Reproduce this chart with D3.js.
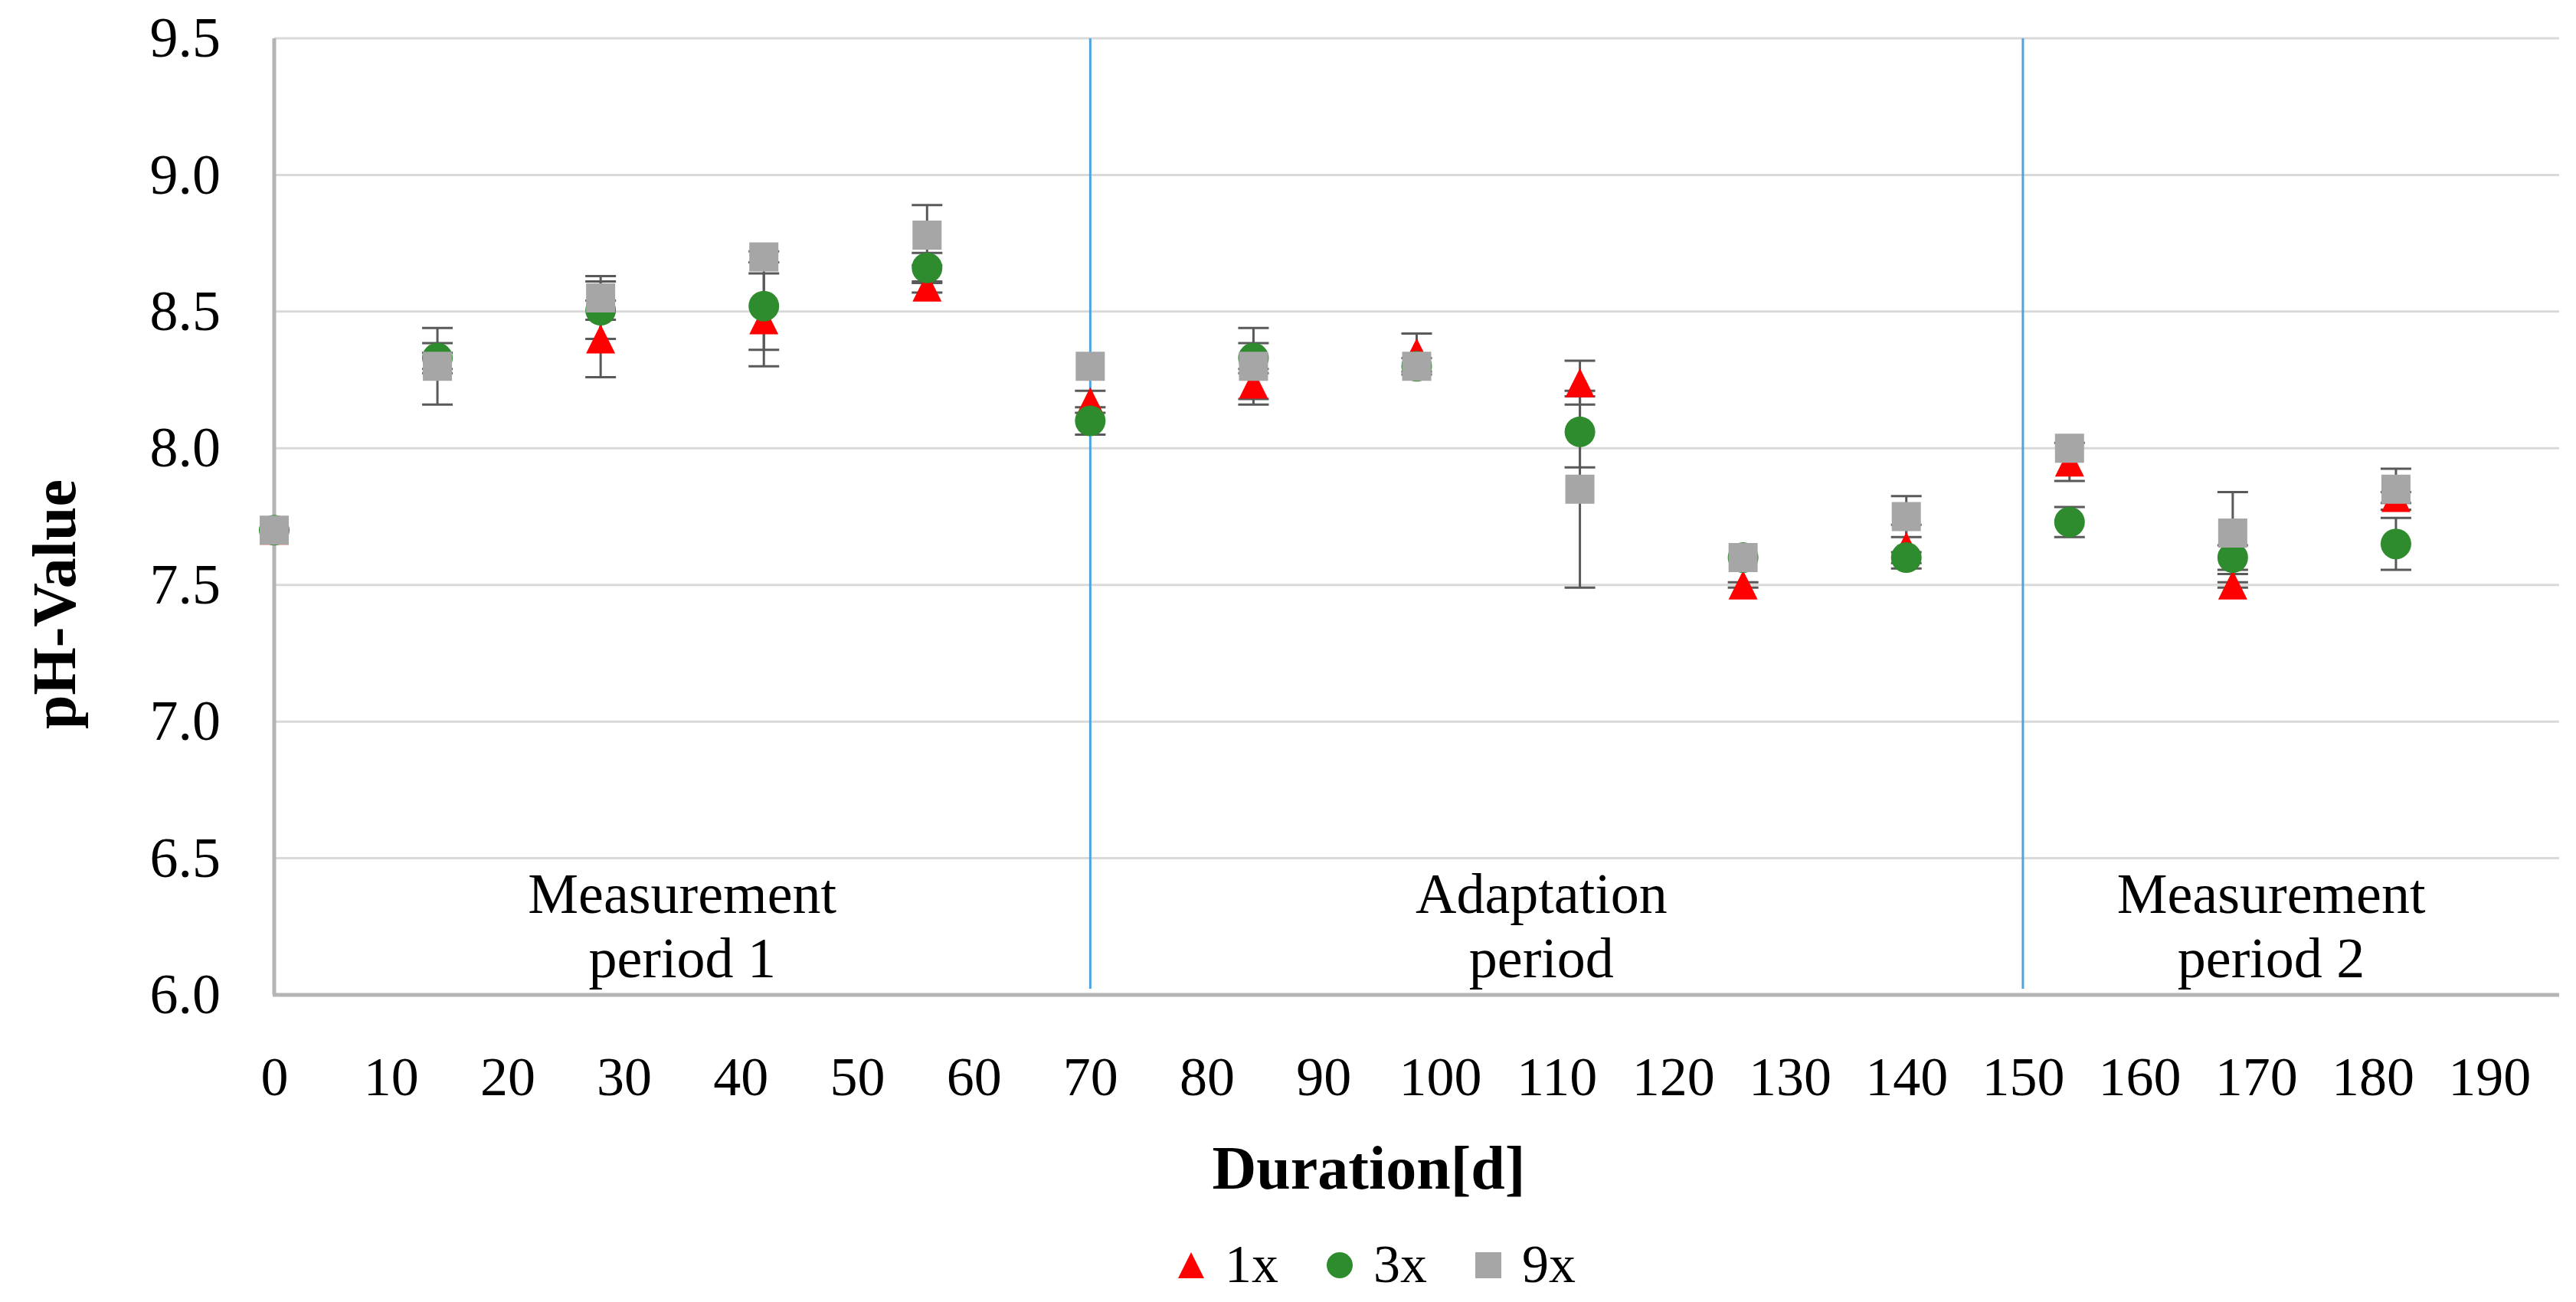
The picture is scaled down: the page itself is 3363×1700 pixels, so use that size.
<!DOCTYPE html>
<html>
<head>
<meta charset="utf-8">
<script src="https://cdn.jsdelivr.net/npm/d3@7/dist/d3.min.js"></script>
<style>
  body { margin: 0; background: #fff; }
  text { font-family: "Liberation Serif", "DejaVu Serif", serif; fill: #000; }
</style>
</head>
<body>
<svg id="chart"></svg>
<script>
// sampling days
var days = [0, 14, 28, 42, 56, 70, 84, 98, 112, 126, 140, 154, 168, 182];

// pH means and standard deviations
var ph1x  = [7.70, 8.32, 8.40, 8.47, 8.59, 8.17, 8.235, 8.35, 8.24, 7.50, 7.64, 7.95, 7.50, 7.82];
var err1x = [0, 0.03, 0.14, 0.17, 0.02, 0.04, 0.055, 0.07, 0.08, 0.01, 0.08, 0.07, 0.01, 0.02];
var ph3x  = [7.70, 8.33, 8.505, 8.52, 8.66, 8.10, 8.33, 8.30, 8.06, 7.60, 7.60, 7.73, 7.60, 7.65];
var err3x = [0, 0.055, 0.105, 0.16, 0.055, 0.05, 0.055, 0.03, 0.13, 0, 0.02, 0.055, 0.045, 0.095];
var ph9x  = [7.70, 8.30, 8.55, 8.70, 8.78, 8.30, 8.30, 8.30, 7.85, 7.60, 7.75, 8.00, 7.69, 7.85];
var err9x = [0, 0.14, 0.08, 0.02, 0.11, 0, 0.14, 0, 0.36, 0, 0.075, 0, 0.15, 0.075];

var seriesNames = ["1x", "3x", "9x"];
var yTicks = [6.0, 6.5, 7.0, 7.5, 8.0, 8.5, 9.0, 9.5];
var xTicks = [0, 10, 20, 30, 40, 50, 60, 70, 80, 90, 100, 110, 120, 130, 140, 150, 160, 170, 180, 190];
var periodBreaks = [70, 150];
var periodLabels = [
  {day: 35, lines: ["Measurement", "period 1"]},
  {day: 108.7, lines: ["Adaptation", "period"]},
  {day: 171.3, lines: ["Measurement", "period 2"]}
];

var width = 3363, height = 1700;
var plotLeft = 358, plotRight = 3341, plotTop = 50, plotBottom = 1299;

var svg = d3.select("#chart")
    .attr("width", width)
    .attr("height", height);

var x = d3.scaleLinear().domain([0, 196]).range([plotLeft, plotRight]);
var y = d3.scaleLinear().domain([6, 9.5]).range([plotBottom, plotTop]);

// horizontal grid
svg.append("g").selectAll("line")
    .data(yTicks.slice(1))
    .enter().append("line")
    .attr("x1", plotLeft).attr("x2", plotRight)
    .attr("y1", function(d) { return y(d); })
    .attr("y2", function(d) { return y(d); })
    .attr("stroke", "#d9d9d9")
    .attr("stroke-width", 3);

// period separators
svg.append("g").selectAll("line")
    .data(periodBreaks)
    .enter().append("line")
    .attr("x1", function(d) { return x(d); })
    .attr("x2", function(d) { return x(d); })
    .attr("y1", plotTop).attr("y2", plotBottom - 8)
    .attr("stroke", "#4fa3de")
    .attr("stroke-width", 3);

// axis lines
svg.append("line")
    .attr("x1", plotLeft).attr("x2", plotLeft)
    .attr("y1", plotTop).attr("y2", plotBottom)
    .attr("stroke", "#b4b4b4").attr("stroke-width", 5);
svg.append("line")
    .attr("x1", plotLeft - 2).attr("x2", plotRight)
    .attr("y1", plotBottom).attr("y2", plotBottom)
    .attr("stroke", "#b4b4b4").attr("stroke-width", 5);

// tick labels through d3 axes, no tick marks
var yAxis = svg.append("g")
    .attr("transform", "translate(" + (plotLeft - 70) + ",0)")
    .call(d3.axisLeft(y).tickValues(yTicks).tickFormat(d3.format(".1f")).tickSize(0).tickPadding(0));
yAxis.select(".domain").remove();
yAxis.selectAll("text")
    .style("font-family", "Liberation Serif")
    .style("font-size", "74px")
    .attr("fill", "#000");

var xAxis = svg.append("g")
    .attr("transform", "translate(0," + (plotBottom + 80) + ")")
    .call(d3.axisBottom(x).tickValues(xTicks).tickFormat(d3.format("d")).tickSize(0).tickPadding(0));
xAxis.select(".domain").remove();
xAxis.selectAll("text")
    .style("font-family", "Liberation Serif")
    .style("font-size", "72px")
    .attr("fill", "#000");

// axis titles
svg.append("text")
    .attr("x", 1787).attr("y", 1552)
    .attr("text-anchor", "middle")
    .style("font-size", "80px").style("font-weight", "bold")
    .text("Duration[d]");

svg.append("text")
    .attr("transform", "translate(98,789) rotate(-90)")
    .attr("text-anchor", "middle")
    .style("font-size", "80px").style("font-weight", "bold")
    .text("pH-Value");

// period labels
periodLabels.forEach(function(p) {
    p.lines.forEach(function(line, i) {
        svg.append("text")
            .attr("x", x(p.day))
            .attr("y", 1192 + i * 84)
            .attr("text-anchor", "middle")
            .style("font-size", "74px")
            .text(line);
    });
});

var series = [
    {name: seriesNames[0], values: ph1x, errs: err1x, color: "#ff0000", shape: "triangle"},
    {name: seriesNames[1], values: ph3x, errs: err3x, color: "#2e8b2e", shape: "circle"},
    {name: seriesNames[2], values: ph9x, errs: err9x, color: "#a6a6a6", shape: "square"}
];

function markerPath(shape, s) {
    var h = s / 2;
    if (shape === "triangle") return "M0," + (-h) + "L" + h + "," + h + "L" + (-h) + "," + h + "Z";
    if (shape === "square") return "M" + (-h) + "," + (-h) + "h" + s + "v" + s + "h" + (-s) + "Z";
    return d3.symbol().type(d3.symbolCircle).size(Math.PI * h * h)();
}

// error bars first, all series
var capW = 40;
series.forEach(function(s) {
    var pts = days.map(function(d, i) { return {day: d, v: s.values[i], e: s.errs[i]}; })
                  .filter(function(p) { return p.e > 0; });
    var g = svg.append("g").attr("stroke", "#595959").attr("stroke-width", 3);
    g.selectAll(".stem").data(pts).enter().append("line")
        .attr("x1", function(p) { return x(p.day); })
        .attr("x2", function(p) { return x(p.day); })
        .attr("y1", function(p) { return y(p.v + p.e); })
        .attr("y2", function(p) { return y(p.v - p.e); });
    [1, -1].forEach(function(sign) {
        g.selectAll(".cap" + sign).data(pts).enter().append("line")
            .attr("x1", function(p) { return x(p.day) - capW / 2; })
            .attr("x2", function(p) { return x(p.day) + capW / 2; })
            .attr("y1", function(p) { return y(p.v + sign * p.e); })
            .attr("y2", function(p) { return y(p.v + sign * p.e); });
    });
});

// markers
series.forEach(function(s) {
    svg.append("g").selectAll("path")
        .data(days.map(function(d, i) { return {day: d, v: s.values[i]}; }))
        .enter().append("path")
        .attr("d", markerPath(s.shape, s.shape === "circle" ? 40 : 38))
        .attr("transform", function(p) { return "translate(" + x(p.day) + "," + y(p.v) + ")"; })
        .attr("fill", s.color);
});

// legend
var legend = svg.append("g").attr("transform", "translate(1555,1652)");
var item = legend.selectAll("g").data(series).enter().append("g")
    .attr("transform", function(d, i) { return "translate(" + (i * 194) + ",0)"; });
item.append("path")
    .attr("d", function(d) { return markerPath(d.shape, 34); })
    .attr("fill", function(d) { return d.color; });
item.append("text")
    .attr("x", 44).attr("y", 22)
    .style("font-size", "70px")
    .text(function(d) { return d.name; });
</script>
</body>
</html>
